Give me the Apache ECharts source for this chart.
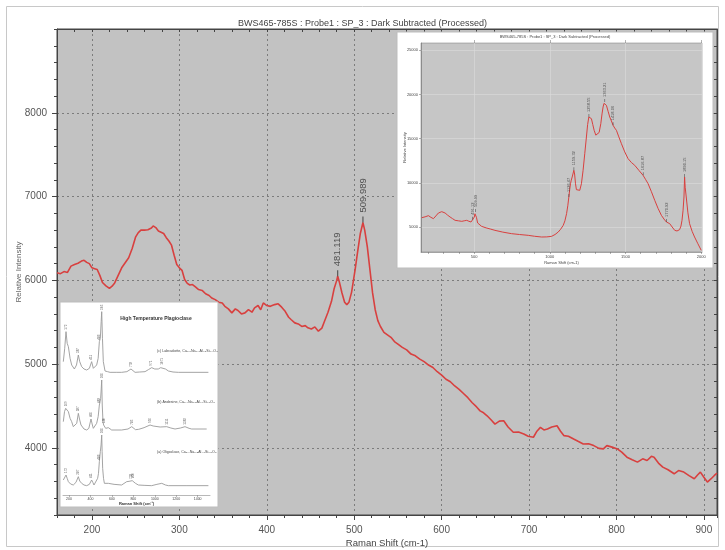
<!DOCTYPE html>
<html>
<head>
<meta charset="utf-8">
<title>BWS465-785S : Probe1 : SP_3</title>
<script src="https://cdn.jsdelivr.net/npm/echarts@6/dist/echarts.min.js"></script>
<style>
  html, body { margin: 0; padding: 0; background: #fff; }
  #chart { width: 725px; height: 550px; }
</style>
</head>
<body>
<div id="chart"></div>
<script>
// main spectrum, [raman shift (cm-1), relative intensity]
var mainSpectrum = [
  [160, 6090], [164, 6080], [168, 6105], [172, 6095], [176, 6170], [180, 6190], [184, 6205],
  [188, 6230], [191, 6240], [194, 6215], [197, 6200], [200, 6150], [203, 6140], [206, 6130],
  [209, 6060], [212, 5975], [216, 5935], [220, 5905], [223, 5930], [226, 5970], [230, 6060],
  [234, 6150], [238, 6210], [242, 6270], [246, 6380], [250, 6520], [253, 6570], [256, 6600],
  [260, 6600], [264, 6605], [268, 6625], [270, 6650], [273, 6630], [276, 6590], [279, 6575],
  [282, 6560], [285, 6510], [288, 6470], [291, 6420], [294, 6300], [297, 6190], [300, 6150],
  [303, 6120], [306, 6010], [309, 5965], [312, 5945], [315, 5950], [318, 5925], [322, 5890],
  [326, 5880], [330, 5840], [334, 5820], [337, 5790], [341, 5770], [345, 5740], [349, 5730],
  [352, 5690], [356, 5660], [360, 5612], [364, 5660], [367, 5640], [371, 5600], [375, 5612],
  [379, 5650], [383, 5620], [386, 5671], [390, 5700], [393, 5650], [396, 5731], [400, 5700],
  [404, 5690], [409, 5711], [413, 5720], [417, 5680], [421, 5631], [425, 5560], [428, 5530],
  [432, 5493], [436, 5480], [440, 5450], [444, 5460], [447, 5434], [451, 5420], [455, 5445],
  [459, 5394], [463, 5430], [466, 5512], [470, 5620], [474, 5750], [477, 5900], [480, 6000],
  [481.1, 6050], [483, 5980], [486, 5850], [489, 5740], [491.5, 5711], [494, 5740], [497, 5860],
  [501, 6126], [504, 6350], [507, 6560], [510, 6690], [512, 6600], [515, 6400], [518, 6126],
  [521, 5850], [524, 5650], [527, 5520], [530, 5450], [534, 5380], [538, 5350], [542, 5320],
  [546, 5270], [550, 5240], [555, 5200], [560, 5170], [565, 5120], [570, 5100], [575, 5060],
  [580, 5030], [585, 4990], [590, 4960], [595, 4910], [600, 4870], [605, 4820], [610, 4790],
  [615, 4740], [620, 4700], [625, 4650], [630, 4600], [635, 4540], [640, 4490], [644, 4443],
  [648, 4420], [652, 4384], [657, 4330], [661, 4285], [666, 4320], [671, 4325], [676, 4250],
  [682, 4187], [688, 4190], [694, 4167], [699, 4140], [705, 4128], [709, 4200], [713, 4246],
  [717, 4215], [721, 4226], [726, 4250], [732, 4265], [736, 4200], [740, 4147], [745, 4140],
  [751, 4107], [756, 4080], [762, 4048], [768, 4050], [774, 4028], [780, 3995], [785, 3989],
  [789, 4028], [795, 4010], [801, 3989], [806, 3950], [812, 3890], [818, 3860], [824, 3831],
  [830, 3870], [835, 3850], [840, 3900], [843, 3890], [848, 3820], [853, 3771], [859, 3740],
  [866, 3692], [871, 3730], [877, 3712], [883, 3670], [889, 3632], [893, 3680], [896, 3712],
  [900, 3650], [904, 3593], [908, 3630], [912, 3672], [915, 3700]
];
var mainPeaks = [[481.119, 6050], [509.989, 6690]];
var mainXTicks = [200, 300, 400, 500, 600, 700, 800, 900];
var mainYTicks = [4000, 5000, 6000, 7000, 8000];

// inset (top right): full range spectrum
var insetSpectrum = [
  [155, 6057], [177, 6150], [199, 6283], [215, 6100], [232, 5943], [248, 6250], [265, 6585],
  [276, 6700], [287, 6736], [298, 6700], [309, 6585], [325, 6350], [342, 6132], [358, 5950],
  [375, 5755], [397, 5700], [419, 5642], [435, 5700], [452, 5755], [466, 5650], [480, 5566],
  [486, 5650], [491, 5830], [496, 5950], [502, 6132], [506, 6500], [511, 6698], [516, 6100],
  [524, 5453], [537, 5250], [550, 5075], [580, 4900], [610, 4760], [638, 4623], [690, 4420],
  [748, 4245], [800, 4150], [858, 4057], [900, 3950], [946, 3868], [980, 3880], [1012, 3943],
  [1035, 4150], [1056, 4434], [1072, 4750], [1089, 5189], [1100, 5700], [1111, 6510],
  [1119, 7400], [1126, 8397], [1132, 9300], [1137, 9906], [1142, 10300], [1148, 10661],
  [1153, 11000], [1159, 11416], [1164, 11000], [1170, 9900], [1176, 9227], [1187, 9050],
  [1198, 9151], [1209, 9900], [1220, 11416], [1231, 13300], [1242, 15190], [1250, 16600],
  [1258, 17454], [1266, 17500], [1275, 17265], [1284, 16600], [1293, 15945], [1304, 15400],
  [1315, 15190], [1326, 15700], [1337, 16700], [1345, 17800], [1352, 18587], [1358, 19000],
  [1363, 19152], [1368, 19050], [1374, 18775], [1385, 18100], [1396, 17454], [1407, 17000],
  [1418, 16510], [1429, 16200], [1440, 15945], [1456, 15200], [1473, 14435], [1495, 13500],
  [1517, 12737], [1539, 12300], [1561, 11982], [1589, 11400], [1616, 10850], [1632, 10400],
  [1649, 9906], [1671, 9000], [1693, 8019], [1715, 7100], [1737, 6321], [1754, 5900],
  [1770, 5566], [1781, 5453], [1792, 5377], [1808, 5000], [1825, 4623], [1840, 4550],
  [1857, 4698], [1866, 5100], [1873, 5755], [1880, 6900], [1886, 8397], [1890, 10661],
  [1894, 9500], [1901, 8397], [1912, 6600], [1923, 5377], [1940, 4500], [1956, 3868],
  [1978, 3100], [2000, 2358]
];
var insetPeaks = [
  [491.119, 5830], [509.989, 6698], [1126.47, 8397], [1159.32, 11416], [1258.55, 17454],
  [1363.21, 19152], [1418.06, 16510], [1616.87, 10850], [1770.92, 5566], [1890.15, 10661]
];
var insetMinorXTicks = [200, 300, 400, 500, 600, 700, 800, 900, 1000, 1100, 1200, 1300, 1400,
  1500, 1600, 1700, 1800, 1900, 2000];
var insetXTicks = [500, 1000, 1500, 2000];
var insetYTicks = [5000, 10000, 15000, 20000, 25000];

// inset (bottom left): reference plagioclase spectra, stacked
var labradorite = [
  [147, 40], [160, 44], [172, 49], [183, 45.5], [194, 44.5], [210, 41], [225, 39], [250, 37.8],
  [270, 39], [287, 42], [300, 40], [318, 38.5], [340, 37.8], [365, 37.5], [390, 38], [411, 40],
  [427, 38], [445, 38.3], [458, 39], [472, 41], [483, 46], [492, 47], [500, 52], [505, 55],
  [512, 47], [520, 40], [536, 37.2], [560, 37], [583, 36.8], [640, 36.8], [691, 36.8],
  [740, 37], [778, 37.8], [816, 36.8], [860, 36.9], [909, 37], [940, 37.6], [971, 38.2],
  [1000, 37.8], [1033, 37.8], [1055, 38.2], [1071, 38.5], [1100, 37.8], [1127, 37.2],
  [1170, 36.9], [1220, 36.8], [1500, 36.8]
];
var andesine = [
  [147, 22], [158, 25], [169, 26], [180, 25.5], [194, 25], [210, 23], [225, 22], [240, 20.5],
  [256, 20], [272, 21.5], [287, 24.5], [300, 22.5], [312, 21], [340, 19.8], [365, 19.5],
  [385, 20], [405, 22.8], [418, 21], [427, 20], [445, 20.5], [458, 21.5], [472, 23.5],
  [483, 27], [490, 28], [495, 29], [500, 31.5], [505, 34.5], [510, 27], [517, 22], [523, 21],
  [530, 21], [536, 20.5], [542, 20], [555, 20.6], [567, 20.2], [598, 19.5], [691, 19.5],
  [750, 19.8], [785, 20.5], [820, 19.6], [850, 19.7], [900, 20.2], [956, 21], [985, 20.7],
  [1002, 20.5], [1050, 20.4], [1111, 20.5], [1150, 20.1], [1189, 19.8], [1240, 20.1],
  [1282, 20.5], [1320, 20], [1344, 19.8], [1484, 19.8]
];
var oligoclase = [
  [147, 4.5], [160, 5], [172, 6], [183, 5], [194, 4], [215, 3.3], [240, 3], [265, 3.8],
  [287, 5.5], [300, 4.2], [318, 3.5], [340, 3], [365, 2.8], [390, 3.2], [411, 4.5], [422, 3.8],
  [433, 3], [450, 3.5], [467, 5], [475, 6.5], [483, 10], [492, 13], [499, 15], [505, 18],
  [509, 13], [514, 8], [522, 5], [530, 3.5], [567, 3.5], [620, 3.2], [691, 3], [738, 4],
  [760, 4.1], [778, 4.2], [790, 4.3], [800, 4.5], [820, 3.5], [847, 3], [900, 2.9], [971, 2.8],
  [1020, 3.2], [1065, 3.5], [1100, 3], [1127, 2.8], [1300, 2.8], [1500, 2.8]
];
var labradoritePeaks = [[172, 49], [287, 42], [411, 40], [483, 46], [505, 55], [778, 37.8], [971, 38.2], [1071, 38.5]];
var andesinePeaks = [[169, 26], [287, 24.5], [405, 22.8], [483, 27], [505, 34.5], [530, 21], [785, 20.5], [956, 21], [1111, 20.5], [1282, 20.5]];
var oligoclasePeaks = [[172, 6], [287, 5.5], [411, 4.5], [483, 10], [505, 18], [778, 4.2], [800, 4.5]];
var plagXTicks = [200, 400, 600, 800, 1000, 1200, 1400];
var plagNames = [
  '(c) Labradorite, Ca\u2080.\u2086Na\u2080.\u2084Al\u2081.\u2086Si\u2082.\u2084O\u2088',
  '(b) Andesine, Ca\u2080.\u2084Na\u2080.\u2086Al\u2081.\u2084Si\u2082.\u2086O\u2088',
  '(a) Oligoclase, Ca\u2080.\u2082Na\u2080.\u2088Al\u2081.\u2082Si\u2082.\u2088O\u2088'
];

var font = 'Liberation Sans, Arial, sans-serif';
var gridDash = { color: '#7c7c7c', type: [2, 3], width: 1 };
var plain = function (v) { return String(v) };

function peakLabel(size, digits, dist) {
  return {
    show: true,
    position: 'top',
    rotate: 90,
    align: 'left',
    verticalAlign: 'middle',
    distance: dist,
    fontSize: size,
    fontFamily: font,
    color: '#333',
    formatter: function (p) { return p.value[0].toFixed(digits) }
  }
}

var chart = echarts.init(document.getElementById('chart'), null, { renderer: 'canvas' })
chart.setOption({
  animation: false,
  backgroundColor: '#fff',
  title: {
    text: 'BWS465-785S : Probe1 : SP_3 : Dark Subtracted (Processed)',
    left: 'center',
    top: 14,
    textStyle: { fontSize: 9, fontWeight: 'normal', color: '#444', fontFamily: font }
  },
  graphic: [
    // outer frame
    { type: 'rect', z: 0, shape: { x: 6.5, y: 6.5, width: 712, height: 540 },
      style: { fill: null, stroke: '#c8c8c8', lineWidth: 1 } },
    // inset panels
    { type: 'rect', z: 3, shape: { x: 397, y: 32, width: 316, height: 236 },
      style: { fill: '#fff', stroke: '#bdbdbd', lineWidth: 1 } },
    { type: 'rect', z: 3, shape: { x: 60, y: 302, width: 158, height: 205 },
      style: { fill: '#fff', stroke: '#bdbdbd', lineWidth: 1 } },
    { type: 'text', z: 7, style: { x: 555, y: 35, text: 'BWS465-785S : Probe1 : SP_3 : Dark Subtracted (Processed)',
      textAlign: 'center', fontSize: 4, fontFamily: font, fill: '#444' } },
    { type: 'text', z: 7, style: { x: 156, y: 316, text: 'High Temperature Plagioclase',
      textAlign: 'center', fontSize: 5, fontWeight: 'bold', fontFamily: font, fill: '#333' } },
    { type: 'text', z: 7, style: { x: 157, y: 349, text: plagNames[0], fontSize: 3.6, fontFamily: font, fill: '#444' } },
    { type: 'text', z: 7, style: { x: 157, y: 400, text: plagNames[1], fontSize: 3.6, fontFamily: font, fill: '#444' } },
    { type: 'text', z: 7, style: { x: 157, y: 450, text: plagNames[2], fontSize: 3.6, fontFamily: font, fill: '#444' } }
  ],
  grid: [
    { left: 57, right: 8, top: 29, bottom: 35, show: true, backgroundColor: '#c2c2c2',
      borderColor: '#444', borderWidth: 1, outerBoundsMode: 'none' },
    { left: 421, top: 43, width: 281, height: 209, show: true, z: 4, backgroundColor: '#c6c6c6',
      borderColor: '#777', borderWidth: 0.5, outerBoundsMode: 'none' },
    { left: 63, top: 306, width: 147, height: 189, z: 4, outerBoundsMode: 'none' }
  ],
  xAxis: [
    { // main bottom: ticks + labels
      gridIndex: 0, type: 'value', position: 'bottom', min: 160, max: 915, interval: 20,
      axisLine: { lineStyle: { color: '#444' } },
      axisTick: { length: 3, lineStyle: { color: '#444' } },
      axisLabel: { customValues: mainXTicks, formatter: plain, color: '#555', fontSize: 10, fontFamily: font, margin: 10 },
      splitLine: { show: false },
      name: 'Raman Shift (cm-1)', nameLocation: 'middle', nameGap: 23, nameMoveOverlap: false,
      nameTextStyle: { color: '#444', fontSize: 9.5, fontFamily: font }
    },
    { // main top ticks
      gridIndex: 0, type: 'value', position: 'top', min: 160, max: 915, interval: 20,
      axisLine: { lineStyle: { color: '#444' } },
      axisTick: { inside: true, length: 3, lineStyle: { color: '#444' } },
      axisLabel: { show: false }, splitLine: { show: false }
    },
    { // main grid lines + major ticks
      gridIndex: 0, type: 'value', position: 'bottom', min: 160, max: 915,
      axisLine: { show: false },
      axisTick: { customValues: mainXTicks, length: 5, lineStyle: { color: '#444' } },
      axisLabel: { show: false },
      splitLine: { show: true, lineStyle: gridDash }
    },
    { // inset minor ticks + labels
      gridIndex: 1, type: 'value', min: 150, max: 2005, z: 5,
      axisLine: { lineStyle: { color: '#666', width: 0.5 } },
      axisTick: { customValues: insetMinorXTicks, length: 2, lineStyle: { color: '#666', width: 0.5 } },
      axisLabel: { customValues: insetXTicks, formatter: plain, fontSize: 4, color: '#444', margin: 3, fontFamily: font },
      splitLine: { show: false },
      name: 'Raman Shift (cm-1)', nameLocation: 'middle', nameGap: 9, nameMoveOverlap: false,
      nameTextStyle: { fontSize: 4, color: '#444', fontFamily: font }
    },
    { // inset grid lines
      gridIndex: 1, type: 'value', min: 150, max: 2005, z: 5,
      axisLine: { show: false },
      axisTick: { customValues: insetXTicks, length: 3, lineStyle: { color: '#666', width: 0.5 } },
      axisLabel: { show: false },
      splitLine: { show: true, lineStyle: { color: '#dcdcdc', width: 0.6 } }
    },
    { // plagioclase inset
      gridIndex: 2, type: 'value', min: 144, max: 1515, z: 5,
      axisLine: { lineStyle: { color: '#888', width: 0.6 } },
      axisTick: { customValues: plagXTicks, length: 2, lineStyle: { color: '#888', width: 0.6 } },
      axisLabel: { customValues: plagXTicks, formatter: plain, fontSize: 3.5, color: '#444', margin: 2, fontFamily: font },
      splitLine: { show: false },
      name: 'Raman Shift (cm\u207B\u00B9)', nameLocation: 'middle', nameGap: 7, nameMoveOverlap: false,
      nameTextStyle: { fontSize: 4, fontWeight: 'bold', color: '#333', fontFamily: font }
    }
  ],
  yAxis: [
    { // main left: ticks + labels
      gridIndex: 0, type: 'value', position: 'left', min: 3200, max: 9000, interval: 200,
      axisLine: { show: true, lineStyle: { color: '#444' } },
      axisTick: { show: true, length: 3, lineStyle: { color: '#444' } },
      axisLabel: { customValues: mainYTicks, formatter: plain, color: '#555', fontSize: 10, fontFamily: font, margin: 10 },
      splitLine: { show: false },
      name: 'Relative Intensity', nameLocation: 'middle', nameGap: 34, nameMoveOverlap: false,
      nameTextStyle: { color: '#666', fontSize: 8, fontFamily: font }
    },
    { // main right ticks
      gridIndex: 0, type: 'value', position: 'right', min: 3200, max: 9000, interval: 200,
      axisLine: { show: true, lineStyle: { color: '#444' } },
      axisTick: { show: true, inside: true, length: 3, lineStyle: { color: '#444' } },
      axisLabel: { show: false }, splitLine: { show: false }
    },
    { // main grid lines + major ticks
      gridIndex: 0, type: 'value', position: 'left', min: 3200, max: 9000,
      axisLine: { show: false },
      axisTick: { show: true, customValues: mainYTicks, length: 5, lineStyle: { color: '#444' } },
      axisLabel: { show: false },
      splitLine: { show: true, lineStyle: gridDash }
    },
    { // inset
      gridIndex: 1, type: 'value', min: 2170, max: 25830, z: 5,
      axisLine: { show: true, lineStyle: { color: '#666', width: 0.5 } },
      axisTick: { show: true, customValues: insetYTicks, length: 2, lineStyle: { color: '#666', width: 0.5 } },
      axisLabel: { customValues: insetYTicks, formatter: plain, fontSize: 4, color: '#444', margin: 3, fontFamily: font },
      splitLine: { show: true, lineStyle: { color: '#dcdcdc', width: 0.6 } },
      name: 'Relative Intensity', nameLocation: 'middle', nameGap: 14, nameMoveOverlap: false,
      nameTextStyle: { fontSize: 4, color: '#444', fontFamily: font }
    },
    { // plagioclase inset, arbitrary offsets
      gridIndex: 2, type: 'value', min: 0, max: 56.7, show: false
    }
  ],
  series: [
    {
      name: 'SP_3', type: 'line', xAxisIndex: 0, yAxisIndex: 0, data: mainSpectrum,
      showSymbol: false, lineStyle: { color: '#d8403f', width: 1.6 }, z: 2
    },
    {
      name: 'peaks', type: 'scatter', xAxisIndex: 0, yAxisIndex: 0, data: mainPeaks,
      symbol: 'rect', symbolSize: [1, 6], symbolOffset: [0, -3],
      itemStyle: { color: '#222' }, label: peakLabel(9.5, 3, 4), z: 3
    },
    {
      name: 'full range', type: 'line', xAxisIndex: 3, yAxisIndex: 3, data: insetSpectrum,
      showSymbol: false, lineStyle: { color: '#d8403f', width: 1 }, z: 6
    },
    {
      name: 'full range peaks', type: 'scatter', xAxisIndex: 3, yAxisIndex: 3, data: insetPeaks,
      symbol: 'rect', symbolSize: [0.6, 3], symbolOffset: [0, -1.5],
      itemStyle: { color: '#333' }, label: peakLabel(4, 2, 2), z: 7
    },
    {
      name: 'Labradorite', type: 'line', xAxisIndex: 5, yAxisIndex: 4, data: labradorite,
      showSymbol: false, lineStyle: { color: '#9a9a9a', width: 0.9 }, z: 6
    },
    {
      name: 'Andesine', type: 'line', xAxisIndex: 5, yAxisIndex: 4, data: andesine,
      showSymbol: false, lineStyle: { color: '#9a9a9a', width: 0.9 }, z: 6
    },
    {
      name: 'Oligoclase', type: 'line', xAxisIndex: 5, yAxisIndex: 4, data: oligoclase,
      showSymbol: false, lineStyle: { color: '#9a9a9a', width: 0.9 }, z: 6
    },
    {
      name: 'Labradorite peaks', type: 'scatter', xAxisIndex: 5, yAxisIndex: 4,
      data: labradoritePeaks, symbolSize: 0, label: peakLabel(3, 0, 2), z: 7
    },
    {
      name: 'Andesine peaks', type: 'scatter', xAxisIndex: 5, yAxisIndex: 4,
      data: andesinePeaks, symbolSize: 0, label: peakLabel(3, 0, 2), z: 7
    },
    {
      name: 'Oligoclase peaks', type: 'scatter', xAxisIndex: 5, yAxisIndex: 4,
      data: oligoclasePeaks, symbolSize: 0, label: peakLabel(3, 0, 2), z: 7
    }
  ]
})
</script>
</body>
</html>
